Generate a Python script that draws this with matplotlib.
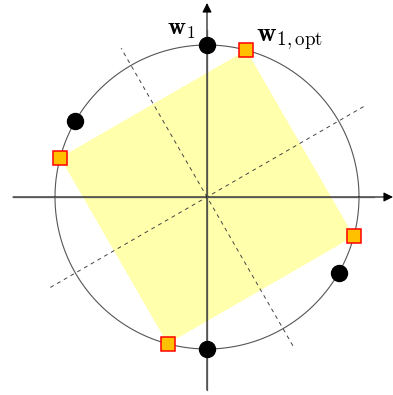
#!/usr/bin/env python3
# coding: utf-8

import numpy as np
import matplotlib
matplotlib.use('Agg')
import matplotlib.pyplot as plt

plt.rcParams['mathtext.fontset'] = 'cm'

# angles in degrees on the unit circle
dot_angles = [90, 150, 270, 330]
square_angles = [75, 165, 255, 345]
# dashed lines: angle, extent to each side
dash_angles = [30, 120]
dash_extent = [1.19, 1.13]
labels = [r'$\mathbf{w}_1$', r'$\mathbf{w}_{1,\mathrm{opt}}$']

SCALE = 152.0  # px per unit
W, H = 393, 395
CX, CY = 207, 197

fig = plt.figure(figsize=(W / 100, H / 100), dpi=100)
ax = fig.add_axes([0, 0, 1, 1])
ax.set_xlim(-CX / SCALE, (W - CX) / SCALE)
ax.set_ylim(-(H - CY) / SCALE, CY / SCALE)
ax.axis('off')

# yellow square between the optimal points
sq = np.radians(square_angles)
ax.fill(np.cos(sq), np.sin(sq), color='#ffff9e', alpha=0.85, lw=0, zorder=1)

# unit circle
t = np.linspace(0, 2 * np.pi, 400)
ax.plot(np.cos(t), np.sin(t), color='#555555', lw=0.8, zorder=2)

# dashed lines
for a, e in zip(dash_angles, dash_extent):
    r = np.radians(a)
    ax.plot([-e * np.cos(r), e * np.cos(r)], [-e * np.sin(r), e * np.sin(r)],
            color='#444444', lw=0.7, ls=(0, (4, 4)), zorder=2)

# axes with arrows
ax.annotate('', xy=((W - CX) / SCALE, 0), xytext=(-194 / SCALE, 0),
            arrowprops=dict(arrowstyle='-|>', color='black', lw=0.8,
                            mutation_scale=14, shrinkA=0, shrinkB=0), zorder=3)
ax.plot([-194 / SCALE, 1.1], [0, 0], color='#555555', lw=0.9, zorder=3)
ax.annotate('', xy=(0, 194 / SCALE), xytext=(0, -193 / SCALE),
            arrowprops=dict(arrowstyle='-|>', color='black', lw=0.8,
                            mutation_scale=14, shrinkA=0, shrinkB=0), zorder=3)
ax.plot([0, 0], [-193 / SCALE, 1.1], color='#555555', lw=0.9, zorder=3)

# points
d = np.radians(dot_angles)
ax.plot(np.cos(d), np.sin(d), 'o', color='black', ms=11.5, zorder=4)
ax.plot(np.cos(sq), np.sin(sq), 's', mfc='#ffc000', mec='red', mew=1.1,
        ms=9.8, zorder=4)

ax.text(-0.075, 1.066, labels[0], fontsize=18, ha='right', va='baseline',
        zorder=5)
ax.text(0.32, 1.026, labels[1], fontsize=19.5, ha='left', va='baseline',
        zorder=5)

fig.savefig('out.png', dpi=100)
